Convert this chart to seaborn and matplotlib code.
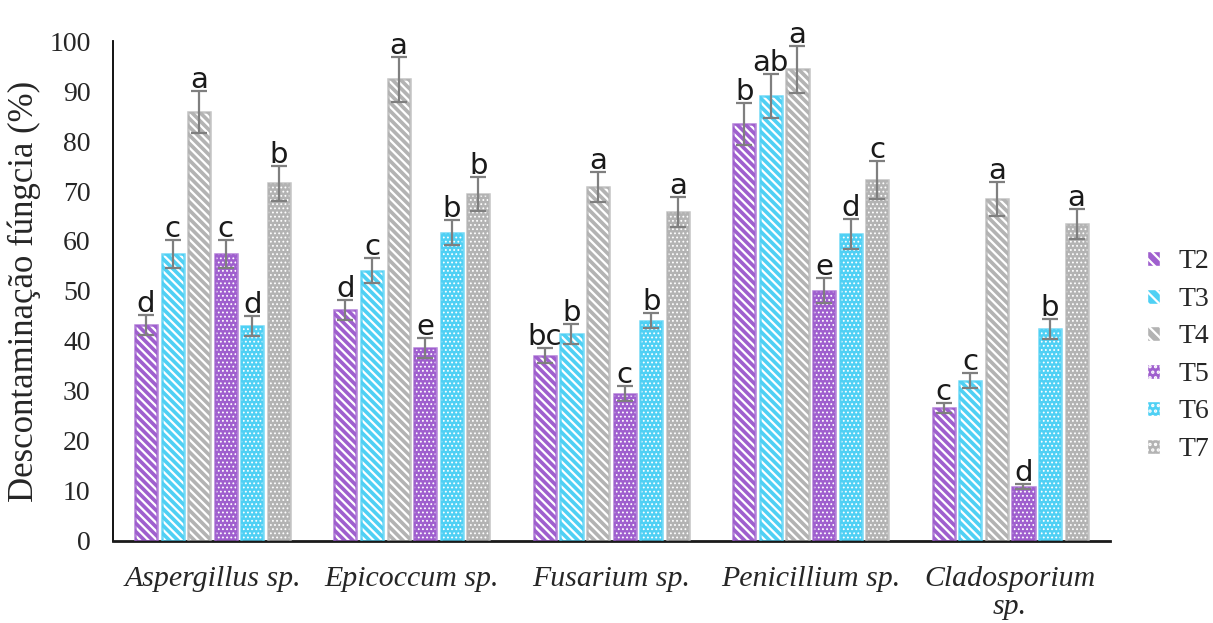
import numpy as np
import pandas as pd
import seaborn as sns
import matplotlib.pyplot as plt
from matplotlib.patches import Rectangle, Patch

# dados
fungos = ["Aspergillus sp.", "Epicoccum sp.", "Fusarium sp.", "Penicillium sp.", "Cladosporium\nsp."]
tratamentos = ["T2", "T3", "T4", "T5", "T6", "T7"]

T2 = [43.2, 46.2, 37.0, 83.4, 26.6]
T3 = [57.4, 54.0, 41.4, 89.0, 32.0]
T4 = [85.8, 92.4, 70.8, 94.4, 68.4]
T5 = [57.4, 38.6, 29.4, 50.0, 10.8]
T6 = [43.0, 61.6, 44.0, 61.4, 42.4]
T7 = [71.6, 69.4, 65.8, 72.2, 63.4]

erro_T2 = [2.0, 2.0, 1.5, 4.2, 1.0]
erro_T3 = [2.8, 2.5, 2.0, 4.4, 1.5]
erro_T4 = [4.2, 4.5, 3.0, 4.7, 3.5]
erro_T5 = [2.8, 2.0, 1.5, 2.5, 0.5]
erro_T6 = [2.0, 2.5, 1.5, 3.0, 2.0]
erro_T7 = [3.5, 3.5, 3.0, 3.8, 3.0]

letras_T2 = ["d", "d", "bc", "b", "c"]
letras_T3 = ["c", "c", "b", "ab", "c"]
letras_T4 = ["a", "a", "a", "a", "a"]
letras_T5 = ["c", "e", "c", "e", "d"]
letras_T6 = ["d", "b", "b", "d", "b"]
letras_T7 = ["b", "b", "a", "c", "a"]

valores = [T2, T3, T4, T5, T6, T7]
erros = [erro_T2, erro_T3, erro_T4, erro_T5, erro_T6, erro_T7]
letras = [letras_T2, letras_T3, letras_T4, letras_T5, letras_T6, letras_T7]

cores = ["#9F5FCE", "#4FD0F4", "#B3B3B3"] * 2
hachuras = ["\\\\\\\\"] * 3 + ["...."] * 3

df = pd.DataFrame({
    "Fungo": fungos * 6,
    "Tratamento": np.repeat(tratamentos, len(fungos)),
    "Valor": np.concatenate(valores),
})

sns.set_style("white")
plt.rcParams["font.family"] = ["Liberation Serif", "DejaVu Serif"]
plt.rcParams["hatch.linewidth"] = 1.6

fig = plt.figure(figsize=(12.13, 6.23), dpi=100)
ax = fig.add_axes([0.093, 0.132, 0.822, 0.802])

sns.barplot(data=df, x="Fungo", y="Valor", hue="Tratamento", hue_order=tratamentos,
            palette=cores, gap=0.17, width=0.8, errorbar=None, legend=False, ax=ax)

barras = list(ax.containers)
for i, cont in enumerate(barras):
    for j, bar in enumerate(cont):
        bar.set_facecolor(cores[i])
        bar.set_edgecolor("white")
        bar.set_hatch(hachuras[i])
        bar.set_linewidth(0)
        if i >= 3 and hasattr(bar, "set_hatch_linewidth"):
            bar.set_hatch_linewidth(0.8)
        x0, w, h = bar.get_x(), bar.get_width(), bar.get_height()
        ax.add_patch(Rectangle((x0, 0), w, h, fill=False, edgecolor=cores[i],
                               linewidth=1.8, alpha=0.8, zorder=3))
        xc = x0 + w / 2
        ax.errorbar(xc, h, yerr=erros[i][j], fmt="none", ecolor="#7F7F7F",
                    elinewidth=1.6, capsize=6, capthick=1.6, zorder=4)
        ax.text(xc, h + erros[i][j] + 2.2, letras[i][j], ha="center", va="center",
                fontsize=21, family="DejaVu Sans", color="#1a1a1a", zorder=5)

ax.set_ylim(0, 100)
ax.set_yticks(range(0, 101, 10))
ax.set_xlim(-0.5, 4.5)
ax.tick_params(axis="y", labelsize=20, length=0, pad=16)
ax.tick_params(axis="x", labelsize=21.5, length=0, pad=18)
for lab in ax.get_xticklabels():
    lab.set_fontstyle("italic")
    lab.set_linespacing(1.1)
ax.set_xlabel("")
ax.set_ylabel("Descontaminação fúngcia (%)", fontsize=25, labelpad=6)
for s in ["top", "right"]:
    ax.spines[s].set_visible(False)
ax.spines["left"].set_linewidth(1.3)
ax.spines["bottom"].set_linewidth(2)
ax.spines["left"].set_color("#000000")
ax.spines["bottom"].set_color("#1a1a1a")

handles = []
for i, t in enumerate(tratamentos):
    p = Patch(facecolor=cores[i], edgecolor="white", hatch=hachuras[i][:3], label=t)
    handles.append(p)
leg = fig.legend(handles=handles, loc="center left", bbox_to_anchor=(0.925, 0.429),
                 frameon=False, fontsize=20, handlelength=0.45, handleheight=0.45,
                 labelspacing=0.45, handletextpad=0.7)

fig.savefig("out.png", dpi=100)
